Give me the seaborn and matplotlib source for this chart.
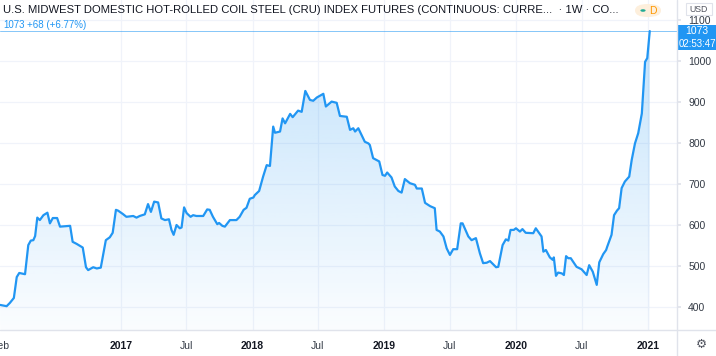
import numpy as np
import pandas as pd
import matplotlib
matplotlib.use("Agg")
import matplotlib.pyplot as plt
import matplotlib.dates as mdates
from matplotlib import font_manager
from matplotlib.patches import Rectangle, FancyBboxPatch, Circle
import seaborn as sns

# ---------------- data ----------------
dates = [
    "2016-02-01", "2016-02-19", "2016-02-28", "2016-03-10", "2016-03-18", "2016-03-25",
    "2016-04-10", "2016-04-19", "2016-04-26", "2016-05-03", "2016-05-08", "2016-05-14",
    "2016-05-21", "2016-05-31", "2016-06-11", "2016-06-18", "2016-06-26", "2016-07-08",
    "2016-07-16", "2016-08-13", "2016-08-20", "2016-08-31", "2016-09-17", "2016-09-26",
    "2016-10-02", "2016-10-16", "2016-10-26", "2016-11-06", "2016-11-20", "2016-12-01",
    "2016-12-09", "2016-12-18", "2016-12-24", "2017-01-06", "2017-01-16", "2017-02-04",
    "2017-02-13", "2017-02-22", "2017-03-08", "2017-03-17", "2017-03-25", "2017-04-03",
    "2017-04-14", "2017-04-23", "2017-05-03", "2017-05-14", "2017-05-21", "2017-05-27",
    "2017-06-04", "2017-06-13", "2017-06-18", "2017-06-25", "2017-07-02", "2017-07-13",
    "2017-07-20", "2017-07-29", "2017-08-17", "2017-08-28", "2017-09-04", "2017-09-13",
    "2017-09-25", "2017-09-30", "2017-10-09", "2017-10-16", "2017-10-30", "2017-11-17",
    "2017-11-26", "2017-12-07", "2017-12-15", "2017-12-24", "2018-01-03", "2018-01-07",
    "2018-01-19", "2018-01-30", "2018-02-09", "2018-02-18", "2018-02-27", "2018-03-04",
    "2018-03-18", "2018-03-25", "2018-04-01", "2018-04-15", "2018-04-22", "2018-05-07",
    "2018-05-17", "2018-05-27", "2018-06-09", "2018-06-18", "2018-06-28", "2018-07-16",
    "2018-07-23", "2018-08-08", "2018-08-22", "2018-08-31", "2018-09-19", "2018-09-28",
    "2018-10-07", "2018-10-12", "2018-10-21", "2018-11-08", "2018-11-18", "2018-11-22",
    "2018-12-01", "2018-12-18", "2018-12-27", "2019-01-03", "2019-01-09", "2019-01-21",
    "2019-01-30", "2019-02-09", "2019-02-18", "2019-02-27", "2019-03-13", "2019-03-27",
    "2019-04-01", "2019-04-15", "2019-04-24", "2019-05-08", "2019-05-21", "2019-05-26",
    "2019-06-04", "2019-06-14", "2019-06-23", "2019-07-02", "2019-07-11", "2019-07-22",
    "2019-08-01", "2019-08-06", "2019-08-22", "2019-08-31", "2019-09-12", "2019-09-23",
    "2019-10-02", "2019-10-12", "2019-10-21", "2019-11-07", "2019-11-13", "2019-11-25",
    "2019-12-04", "2019-12-11", "2019-12-17", "2019-12-26", "2020-01-01", "2020-01-12",
    "2020-01-19", "2020-01-28", "2020-02-18", "2020-02-25", "2020-03-12", "2020-03-17",
    "2020-03-24", "2020-04-04", "2020-04-12", "2020-04-15", "2020-04-21", "2020-04-27",
    "2020-05-07", "2020-05-13", "2020-05-19", "2020-05-25", "2020-06-01", "2020-06-17",
    "2020-07-01", "2020-07-15", "2020-07-22", "2020-08-01", "2020-08-12", "2020-08-19",
    "2020-08-30", "2020-09-07", "2020-09-10", "2020-09-22", "2020-09-29", "2020-10-07",
    "2020-10-13", "2020-10-20", "2020-10-29", "2020-11-10", "2020-11-17", "2020-11-26",
    "2020-12-05", "2020-12-15", "2020-12-24", "2020-12-30", "2021-01-06",
]
prices = [
    405, 402, 410, 422, 473, 483,
    480, 551, 562, 563, 573, 618,
    612, 624, 630, 604, 617, 617,
    596, 598, 559, 554, 545, 497,
    490, 497, 494, 496, 563, 570,
    581, 637, 635, 627, 620, 622,
    618, 622, 626, 651, 632, 657,
    655, 616, 612, 614, 588, 576,
    600, 592, 594, 643, 629, 620,
    624, 622, 622, 638, 637, 620,
    602, 605, 598, 596, 612, 612,
    620, 637, 642, 664, 667, 673,
    683, 718, 746, 744, 840, 825,
    828, 860, 848, 871, 863, 879,
    876, 927, 905, 903, 911, 920,
    889, 901, 898, 866, 864, 832,
    836, 828, 836, 803, 799, 795,
    763, 755, 722, 720, 728, 716,
    694, 683, 679, 712, 702, 698,
    689, 689, 654, 646, 641, 588,
    584, 572, 543, 527, 541, 541,
    604, 604, 572, 563, 568, 531,
    507, 508, 512, 497, 498, 551,
    565, 562, 588, 588, 592, 584,
    590, 581, 580, 592, 572, 535,
    539, 521, 515, 521, 476, 484,
    482, 478, 524, 519, 519, 498,
    492, 478, 502, 486, 454, 509,
    529, 539, 547, 576, 624, 635,
    641, 690, 706, 718, 759, 799,
    824, 872, 998, 1007, 1073,
]

title = "U.S. MIDWEST DOMESTIC HOT-ROLLED COIL STEEL (CRU) INDEX FUTURES (CONTINUOUS: CURRE...  \u00b7 1W \u00b7 CO..."
last_price = "1073"
change_text = "+68 (+6.77%)"
countdown = "02:53:47"
currency = "USD"
interval_badge = "D"
x_tick_dates = ["2016-02-01", "2017-01-01", "2017-07-01", "2018-01-01", "2018-07-01",
                "2019-01-01", "2019-07-01", "2020-01-01", "2020-07-01", "2021-01-01"]
x_tick_labels = ["Feb", "2017", "Jul", "2018", "Jul", "2019", "Jul", "2020", "Jul", "2021"]
y_ticks = [400, 500, 600, 700, 800, 900, 1000, 1100]

# ---------------- style ----------------
sns.set_theme(style="white")
avail = {f.name for f in font_manager.fontManager.ttflist}
narrow = "Liberation Sans Narrow" if "Liberation Sans Narrow" in avail else "Liberation Sans"
plt.rcParams["font.family"] = ["Liberation Sans", "DejaVu Sans"]

BLUE = "#2196f3"
TXT = "#131722"
GRID = "#f0f3fa"
BORDER = "#e0e3eb"

W, H = 716, 356
fig = plt.figure(figsize=(W / 100, H / 100), dpi=100)
fig.patch.set_facecolor("white")


def fx(px):
    return px / W


def fy(py):
    return 1 - py / H


PANE_R, PANE_B = 677, 330
ax = fig.add_axes([0, fy(PANE_B), fx(PANE_R), PANE_B / H])

df = pd.DataFrame({"date": pd.to_datetime(dates), "price": prices})

# axis limits (pixel calibration of the reference)
t0 = pd.Timestamp("2017-01-01")
xmin = t0 - pd.Timedelta(days=335.4)
xmax = t0 + pd.Timedelta(days=1541.5)
ymin, ymax = 343.9, 1148.8
ax.set_xlim(xmin, xmax)
ax.set_ylim(ymin, ymax)

# gridlines
for v in y_ticks:
    ax.axhline(v, color=GRID, lw=0.9, zorder=0)
for d in x_tick_dates[1:]:
    ax.axvline(pd.Timestamp(d), color=GRID, lw=0.9, zorder=0)

# gradient area under the line
xnum = mdates.date2num(df["date"])
poly = ax.fill_between(df["date"], df["price"], ymin, facecolor="none", edgecolor="none")
grad = np.linspace(0, 1, 256).reshape(-1, 1)
rgba = np.zeros((256, 1, 4))
rgba[..., 0] = 0x21 / 255
rgba[..., 1] = 0x96 / 255
rgba[..., 2] = 0xf3 / 255
rgba[..., 3] = 0.02 + 0.26 * grad  # bottom -> top
im = ax.imshow(rgba, origin="lower", aspect="auto",
               extent=[xnum.min(), xnum.max(), ymin, 1100], zorder=1, interpolation="bicubic")
path = poly.get_paths()[0]
im.set_clip_path(path, transform=ax.transData)
ax.set_xlim(xmin, xmax)
ax.set_ylim(ymin, ymax)

sns.lineplot(data=df, x="date", y="price", ax=ax, color=BLUE, lw=1.6, zorder=3,
             estimator=None, sort=False)
ax.axhline(float(last_price), color=BLUE, lw=0.7, alpha=0.55, zorder=2)

# axes
for s in ax.spines.values():
    s.set_visible(False)
ax.set_xlabel("")
ax.set_ylabel("")
ax.yaxis.tick_right()
ax.set_yticks(y_ticks)
ax.set_yticklabels([str(v) for v in y_ticks])
ax.tick_params(axis="y", length=3, color=BORDER, pad=5, labelsize=7.5, labelcolor="#333a45")
ax.set_xticks([pd.Timestamp(d) for d in x_tick_dates])
ax.set_xticklabels(x_tick_labels)
ax.tick_params(axis="x", length=0, pad=8, labelsize=7.5, labelcolor="#333a45")
for lab in ax.get_xticklabels():
    if lab.get_text().isdigit():
        lab.set_fontweight("bold")
        lab.set_color(TXT)

# pane borders
fig.add_artist(plt.Line2D([0, 1], [fy(PANE_B), fy(PANE_B)], transform=fig.transFigure,
                          color=BORDER, lw=1))
fig.add_artist(plt.Line2D([fx(PANE_R), fx(PANE_R)], [0, 1], transform=fig.transFigure,
                          color=BORDER, lw=1))

# header texts
fig.text(fx(3), fy(10), title, family=[narrow, "DejaVu Sans"], fontsize=8.1, color=TXT,
         va="center", ha="left")
fig.text(fx(3), fy(24.5), last_price, fontsize=7, color=BLUE, va="center", ha="left",
         family=[narrow, "DejaVu Sans"])
fig.text(fx(27), fy(24.5), change_text, fontsize=7, color=BLUE, va="center", ha="left",
         family=[narrow, "DejaVu Sans"])

# interval badge
fig.add_artist(FancyBboxPatch((fx(635), fy(17)), fx(26), 13 / H,
                              boxstyle="round,pad=0,rounding_size=0.018",
                              transform=fig.transFigure, facecolor="#fdefdc", edgecolor="none"))
fig.add_artist(Circle((fx(643), fy(10.5)), 2.6 / W, transform=fig.transFigure,
                      facecolor="#22ab94", edgecolor="none"))
fig.text(fx(653), fy(10.5), interval_badge, fontsize=7.5, color="#ff9800", va="center", ha="center")

# currency box
fig.add_artist(Rectangle((fx(686), fy(15)), fx(26), 12 / H, transform=fig.transFigure,
                         facecolor="white", edgecolor=BORDER, lw=0.8))
fig.text(fx(699), fy(9), currency, fontsize=6.3, color="#50535e", va="center", ha="center")

# last price label + countdown
fig.add_artist(Rectangle((fx(678), fy(50)), fx(38), 25 / H, transform=fig.transFigure,
                         facecolor=BLUE, edgecolor="none"))
fig.text(fx(685), fy(31.5), last_price, fontsize=7.5, color="white", va="center", ha="left")
fig.text(fx(679), fy(44), countdown, fontsize=7, color="white", va="center", ha="left")

# settings icon
fig.text(fx(701), fy(344), "\u2699", fontsize=9, color="#50535e", va="center", ha="center",
         family=["DejaVu Sans"])

fig.savefig("out.png", dpi=100, facecolor="white")
